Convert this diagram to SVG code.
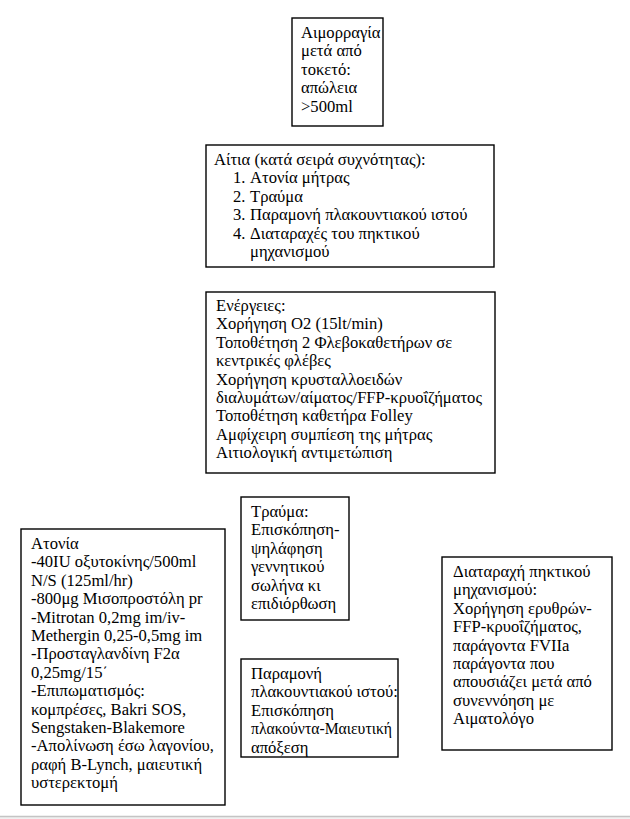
<svg xmlns="http://www.w3.org/2000/svg" width="630" height="819" viewBox="0 0 630 819">
<style>
.box{fill:#fff;stroke:#000;stroke-width:1.4}
.t{font-family:"Liberation Serif","Times New Roman",serif;font-size:16.6px;fill:#000}
</style>
<rect x="0" y="0" width="630" height="819" fill="#fff"/>
<g id="connectors"></g>
<g id="n1">
<rect class="box" x="292" y="18" width="91" height="108"/>
<text class="t" x="301" y="38"><tspan x="301">Αιμορραγία</tspan><tspan x="301" dy="18.4">μετά από</tspan><tspan x="301" dy="18.4">τοκετό:</tspan><tspan x="301" dy="18.4">απώλεια</tspan><tspan x="301" dy="18.4">&gt;500ml</tspan></text>
</g>
<g id="n2">
<rect class="box" x="206" y="145" width="288" height="122"/>
<text class="t" x="214" y="165"><tspan x="214">Αίτια (κατά σειρά συχνότητας):</tspan><tspan x="233" dy="18.4">1.</tspan><tspan x="250">Ατονία μήτρας</tspan><tspan x="233" dy="18.4">2.</tspan><tspan x="250">Τραύμα</tspan><tspan x="233" dy="18.4">3.</tspan><tspan x="250">Παραμονή πλακουντιακού ιστού</tspan><tspan x="233" dy="18.4">4.</tspan><tspan x="250">Διαταραχές του πηκτικού</tspan><tspan x="250" dy="18.4">μηχανισμού</tspan></text>
</g>
<g id="n3">
<rect class="box" x="206" y="292" width="289" height="181"/>
<text class="t" x="216" y="311"><tspan x="216">Ενέργειες:</tspan><tspan x="216" dy="18.4">Χορήγηση Ο2 (15lt/min)</tspan><tspan x="216" dy="18.4">Τοποθέτηση 2 Φλεβοκαθετήρων σε</tspan><tspan x="216" dy="18.4">κεντρικές φλέβες</tspan><tspan x="216" dy="18.4">Χορήγηση κρυσταλλοειδών</tspan><tspan x="216" dy="18.4">διαλυμάτων/αίματος/FFP-κρυοΐζήματος</tspan><tspan x="216" dy="18.4">Τοποθέτηση καθετήρα Folley</tspan><tspan x="216" dy="18.4">Αμφίχειρη συμπίεση της μήτρας</tspan><tspan x="216" dy="18.4">Αιτιολογική αντιμετώπιση</tspan></text>
</g>
<g id="n4">
<rect class="box" x="21" y="529" width="204" height="276"/>
<text class="t" x="31" y="549"><tspan x="31">Ατονία</tspan><tspan x="31" dy="18.4">-40IU οξυτοκίνης/500ml</tspan><tspan x="31" dy="18.4">N/S (125ml/hr)</tspan><tspan x="31" dy="18.4">-800μg Μισοπροστόλη pr</tspan><tspan x="31" dy="18.4">-Mitrotan 0,2mg im/iv-</tspan><tspan x="31" dy="18.4">Methergin 0,25-0,5mg im</tspan><tspan x="31" dy="18.4">-Προσταγλανδίνη F2α</tspan><tspan x="31" dy="18.4">0,25mg/15΄</tspan><tspan x="31" dy="18.4">-Επιπωματισμός:</tspan><tspan x="31" dy="18.4">κομπρέσες, Bakri SOS,</tspan><tspan x="31" dy="18.4">Sengstaken-Blakemore</tspan><tspan x="31" dy="18.4">-Απολίνωση έσω λαγονίου,</tspan><tspan x="31" dy="18.4">ραφή B-Lynch, μαιευτική</tspan><tspan x="31" dy="18.4">υστερεκτομή</tspan></text>
</g>
<g id="n5">
<rect class="box" x="241" y="497" width="108" height="123"/>
<text class="t" x="251" y="517"><tspan x="251">Τραύμα:</tspan><tspan x="251" dy="18.4">Επισκόπηση-</tspan><tspan x="251" dy="18.4">ψηλάφηση</tspan><tspan x="251" dy="18.4">γεννητικού</tspan><tspan x="251" dy="18.4">σωλήνα κι</tspan><tspan x="251" dy="18.4">επιδιόρθωση</tspan></text>
</g>
<g id="n6">
<rect class="box" x="241" y="659" width="157" height="98"/>
<text class="t" x="251" y="679"><tspan x="251">Παραμονή</tspan><tspan x="251" dy="18.4">πλακουντιακού ιστού:</tspan><tspan x="251" dy="18.4">Επισκόπηση</tspan><tspan x="251" dy="18.4" textLength="141" lengthAdjust="spacingAndGlyphs">πλακούντα-Μαιευτική</tspan><tspan x="251" dy="18.4">απόξεση</tspan></text>
</g>
<g id="n7">
<rect class="box" x="442" y="557" width="170" height="193"/>
<text class="t" x="453" y="577"><tspan x="453">Διαταραχή πηκτικού</tspan><tspan x="453" dy="18.4">μηχανισμού:</tspan><tspan x="453" dy="18.4">Χορήγηση ερυθρών-</tspan><tspan x="453" dy="18.4">FFP-κρυοΐζήματος,</tspan><tspan x="453" dy="18.4">παράγοντα FVIIa</tspan><tspan x="453" dy="18.4">παράγοντα που</tspan><tspan x="453" dy="18.4">απουσιάζει μετά από</tspan><tspan x="453" dy="18.4">συνεννόηση με</tspan><tspan x="453" dy="18.4">Αιματολόγο</tspan></text>
</g>
<rect x="0" y="816" width="630" height="3" fill="#f0f0f0"/>
<line x1="0" y1="816.5" x2="630" y2="816.5" stroke="#c4c4c4" stroke-width="1.5"/>
</svg>
